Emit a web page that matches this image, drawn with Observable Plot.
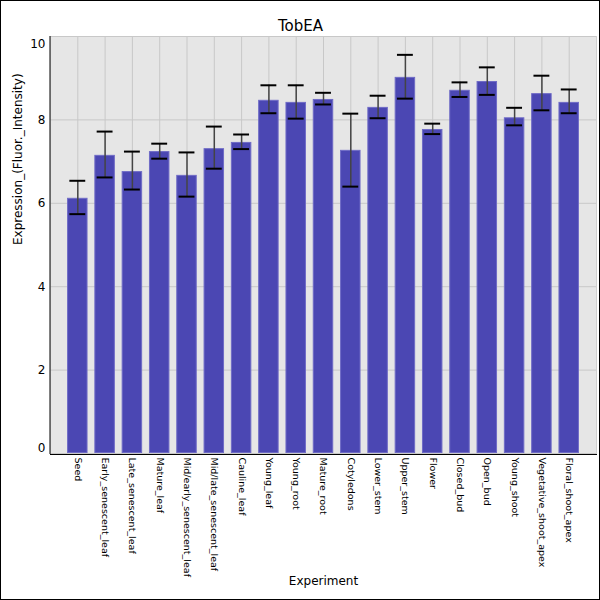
<!DOCTYPE html>
<html>
<head>
<meta charset="utf-8">
<script src="https://cdn.jsdelivr.net/npm/d3@7"></script>
<script src="https://cdn.jsdelivr.net/npm/@observablehq/plot@0.6"></script>
<style>
  body { margin: 0; background: white; }
  svg { display: block; outline: 1px solid #000; outline-offset: -1px; }
</style>
</head>
<body>
<div id="chart"></div>
<script>
const title = "TobEA";
const xLabel = "Experiment";
const yLabel = "Expression_(Fluor._Intensity)";
const categories = [
  "Seed", "Early_senescent_leaf", "Late_senescent_leaf", "Mature_leaf",
  "Mid/early_senescent_leaf", "Mid/late_senescent_leaf", "Cauline_leaf",
  "Young_leaf", "Young_root", "Mature_root", "Cotyledons", "Lower_stem",
  "Upper_stem", "Flower", "Closed_bud", "Open_bud", "Young_shoot",
  "Vegetative_shoot_apex", "Floral_shoot_apex"
];
const means   = [6.12, 7.15, 6.76, 7.24, 6.67, 7.31, 7.46, 8.47, 8.42, 8.49, 7.27, 8.30, 9.02, 7.77, 8.71, 8.92, 8.05, 8.63, 8.42];
const errLow  = [5.74, 6.62, 6.33, 7.07, 6.16, 6.83, 7.30, 8.16, 8.03, 8.37, 6.40, 8.04, 8.51, 7.66, 8.55, 8.60, 7.87, 8.23, 8.16];
const errHigh = [6.54, 7.72, 7.24, 7.43, 7.22, 7.84, 7.65, 8.83, 8.83, 8.65, 8.15, 8.58, 9.56, 7.91, 8.90, 9.26, 8.29, 9.06, 8.73];
const yTicks = [0, 2, 4, 6, 8, 10];

const data = categories.map((c, i) => ({c, v: means[i], lo: errLow[i], hi: errHigh[i]}));

const chart = Plot.plot({
  width: 600,
  height: 600,
  marginLeft: 50,
  marginRight: 4,
  marginTop: 36,
  marginBottom: 147,
  style: {fontFamily: "DejaVu Sans", background: "white", color: "#000"},
  x: {domain: categories, paddingInner: 0.25, paddingOuter: 0.625, round: false, label: null},
  y: {domain: [0, 10], label: null},
  marks: [
    Plot.frame({fill: "#e6e6e6", stroke: "#d0d0d0"}),
    Plot.ruleX(categories, {x: d => d, stroke: "#c8c8c8", strokeWidth: 1}),
    Plot.ruleY(yTicks, {y: d => d, stroke: "#c8c8c8", strokeWidth: 1}),
    Plot.barY(data, {x: "c", y: "v", fill: "#4b47b3", stroke: "#6f6bc6", strokeWidth: 1, inset: 0.5}),
    Plot.ruleX(data, {x: "c", y1: "lo", y2: "hi", stroke: "#444", strokeWidth: 1.5}),
    Plot.tickY(data, {x: "c", y: "lo", stroke: "#000", strokeWidth: 2, insetLeft: 2.3, insetRight: 2.3}),
    Plot.tickY(data, {x: "c", y: "hi", stroke: "#000", strokeWidth: 2, insetLeft: 2.3, insetRight: 2.3}),
    Plot.axisY(yTicks.filter(t => t > 0 && t < 10), {tickSize: 0, tickPadding: 5, fontSize: 12, fill: "#000"}),
    Plot.axisY([10], {tickSize: 0, tickPadding: 5, fontSize: 12, fill: "#000", dy: 8}),
    Plot.axisY([0], {tickSize: 0, tickPadding: 5, fontSize: 12, fill: "#000", dy: -5}),
    Plot.axisX({tickSize: 0, tickPadding: 4, tickRotate: 90, fontSize: 9.5, fill: "#000"}),
    Plot.frame({anchor: "left", stroke: "#000", strokeWidth: 1, dx: -0.5}),
    Plot.frame({anchor: "bottom", stroke: "#000", strokeWidth: 1, dy: 1}),
    Plot.text([title], {frameAnchor: "top", dy: -16, dx: -23, fontSize: 15, fill: "#000"}),
    Plot.text([yLabel], {frameAnchor: "left", dx: -32, rotate: -90, fontSize: 12, fill: "#000"}),
    Plot.text([xLabel], {frameAnchor: "bottom", dy: 131, fontSize: 12, fill: "#000"})
  ]
});
document.getElementById("chart").append(chart);
</script>
</body>
</html>
